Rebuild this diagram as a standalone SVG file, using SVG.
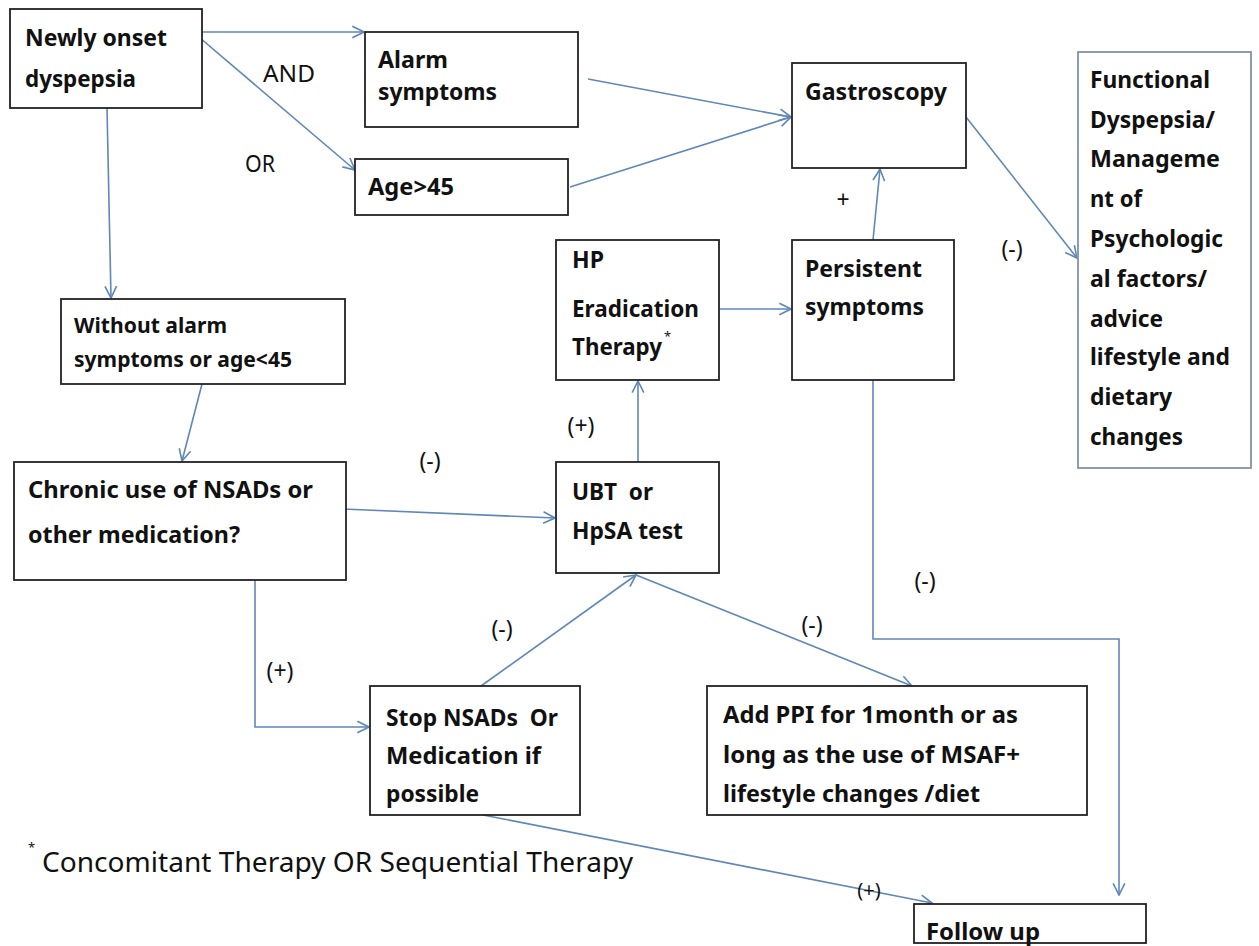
<svg xmlns="http://www.w3.org/2000/svg" width="1259" height="946" viewBox="0 0 1259 946">
<defs>
<marker id="arr" markerUnits="userSpaceOnUse" markerWidth="14" markerHeight="14" viewBox="0 0 12 12" refX="11" refY="6" orient="auto">
<path d="M1,1 L11,6 L1,11" fill="none" stroke="#5f87b8" stroke-width="1.4"/>
</marker>
<style>
rect{fill:#fff;stroke:#222;stroke-width:1.8}
.n{font-family:"Noto Sans","Liberation Sans",sans-serif;font-weight:bold;font-size:24px;fill:#111}
.s{font-size:22px}
.l{font-family:"Noto Sans","Liberation Sans",sans-serif;font-size:23px;fill:#111}
.c path{fill:none;stroke:#5f87b8;stroke-width:1.6;marker-end:url(#arr)}
</style>
</defs>
<rect x="0" y="0" width="1259" height="946" style="fill:#fff;stroke:none"/>
<g class="c" id="connectors">
<path d="M193,32 L364,32"/>
<path d="M193,32 L355,170"/>
<path d="M588,79 L791,117"/>
<path d="M570,187 L791,117"/>
<path d="M107,108 L111,298"/>
<path d="M202,384 L182,461"/>
<path d="M343,509 L555,518"/>
<path d="M638,462 L638,381"/>
<path d="M720,309 L791,309"/>
<path d="M873,240 L880,169"/>
<path d="M966,117 L1077,258"/>
<path d="M873,380 L873,639 L1119,639 L1119,895"/>
<path d="M255,580 L255,727 L369,727"/>
<path d="M481,686 L636,575"/>
<path d="M636,575 L912,686"/>
<path d="M483,815 L932,903"/>
</g>
<g id="labels" class="l">
<text x="263" y="82" textLength="52" lengthAdjust="spacingAndGlyphs">AND</text>
<text x="245" y="172" textLength="30" lengthAdjust="spacingAndGlyphs">OR</text>
<text x="843" y="208" text-anchor="middle">+</text>
<text x="1012" y="257" text-anchor="middle">(-)</text>
<text x="581" y="434" text-anchor="middle">(+)</text>
<text x="430" y="469" text-anchor="middle">(-)</text>
<text x="925" y="589" text-anchor="middle">(-)</text>
<text x="812" y="633" text-anchor="middle">(-)</text>
<text x="502" y="637" text-anchor="middle">(-)</text>
<text x="280" y="679" text-anchor="middle">(+)</text>
<text x="869" y="897" text-anchor="middle" style="font-size:20px">(+)</text>
</g>
<g id="newly">
<rect x="10" y="9" width="192" height="99"/>
<text class="n" x="25" y="46" textLength="142" lengthAdjust="spacingAndGlyphs">Newly onset</text>
<text class="n" x="25" y="87" textLength="111" lengthAdjust="spacingAndGlyphs">dyspepsia</text>
</g>
<g id="alarm">
<rect x="365" y="32" width="213" height="95"/>
<text class="n" x="378" y="68" textLength="70" lengthAdjust="spacingAndGlyphs">Alarm</text>
<text class="n" x="378" y="100" textLength="119" lengthAdjust="spacingAndGlyphs">symptoms</text>
</g>
<g id="age">
<rect x="355" y="159" width="213" height="56"/>
<text class="n" x="368" y="195" textLength="86" lengthAdjust="spacingAndGlyphs">Age&gt;45</text>
</g>
<g id="gastroscopy">
<rect x="792" y="63" width="174" height="105"/>
<text class="n" x="805" y="100" textLength="142" lengthAdjust="spacingAndGlyphs">Gastroscopy</text>
</g>
<g id="functional">
<rect x="1078" y="52" width="173" height="416" style="stroke:#8292aa"/>
<text class="n" x="1090" y="88" textLength="120" lengthAdjust="spacingAndGlyphs">Functional</text>
<text class="n" x="1090" y="128" textLength="125" lengthAdjust="spacingAndGlyphs">Dyspepsia/</text>
<text class="n" x="1090" y="167" textLength="130" lengthAdjust="spacingAndGlyphs">Manageme</text>
<text class="n" x="1090" y="207" textLength="52" lengthAdjust="spacingAndGlyphs">nt of</text>
<text class="n" x="1090" y="247" textLength="133" lengthAdjust="spacingAndGlyphs">Psychologic</text>
<text class="n" x="1090" y="287" textLength="117" lengthAdjust="spacingAndGlyphs">al factors/</text>
<text class="n" x="1090" y="327" textLength="73" lengthAdjust="spacingAndGlyphs">advice</text>
<text class="n" x="1090" y="365" textLength="140" lengthAdjust="spacingAndGlyphs">lifestyle and</text>
<text class="n" x="1090" y="405" textLength="82" lengthAdjust="spacingAndGlyphs">dietary</text>
<text class="n" x="1090" y="445" textLength="93" lengthAdjust="spacingAndGlyphs">changes</text>
</g>
<g id="persistent">
<rect x="792" y="240" width="162" height="140"/>
<text class="n" x="805" y="277" textLength="117" lengthAdjust="spacingAndGlyphs">Persistent</text>
<text class="n" x="805" y="315" textLength="119" lengthAdjust="spacingAndGlyphs">symptoms</text>
</g>
<g id="hp">
<rect x="556" y="240" width="163" height="140"/>
<text class="n" x="572" y="268" textLength="32" lengthAdjust="spacingAndGlyphs">HP</text>
<text class="n" x="572" y="317" textLength="127" lengthAdjust="spacingAndGlyphs">Eradication</text>
<text class="n" x="572" y="355"><tspan textLength="90" lengthAdjust="spacingAndGlyphs">Therapy</tspan><tspan dx="2" dy="-14" style="font-size:13px;font-weight:normal">*</tspan></text>
</g>
<g id="ubt">
<rect x="556" y="462" width="163" height="111"/>
<text class="n" x="572" y="500" textLength="81" lengthAdjust="spacingAndGlyphs" xml:space="preserve">UBT  or</text>
<text class="n" x="572" y="539" textLength="111" lengthAdjust="spacingAndGlyphs">HpSA test</text>
</g>
<g id="without">
<rect x="61" y="299" width="284" height="85"/>
<text class="n s" x="74" y="333" textLength="153" lengthAdjust="spacingAndGlyphs">Without alarm</text>
<text class="n s" x="74" y="367" textLength="218" lengthAdjust="spacingAndGlyphs">symptoms or age&lt;45</text>
</g>
<g id="chronic">
<rect x="14" y="462" width="332" height="118"/>
<text class="n" x="28" y="498" textLength="285" lengthAdjust="spacingAndGlyphs">Chronic use of NSADs or</text>
<text class="n" x="28" y="543" textLength="212" lengthAdjust="spacingAndGlyphs">other medication?</text>
</g>
<g id="stop">
<rect x="370" y="686" width="210" height="129"/>
<text class="n" x="386" y="726" textLength="172" lengthAdjust="spacingAndGlyphs" xml:space="preserve">Stop NSADs  Or</text>
<text class="n" x="386" y="764" textLength="155" lengthAdjust="spacingAndGlyphs">Medication if</text>
<text class="n" x="386" y="802" textLength="93" lengthAdjust="spacingAndGlyphs">possible</text>
</g>
<g id="ppi">
<rect x="707" y="686" width="380" height="129"/>
<text class="n" x="723" y="723" textLength="295" lengthAdjust="spacingAndGlyphs">Add PPI for 1month or as</text>
<text class="n" x="723" y="763" textLength="297" lengthAdjust="spacingAndGlyphs">long as the use of MSAF+</text>
<text class="n" x="723" y="802" textLength="257" lengthAdjust="spacingAndGlyphs">lifestyle changes /diet</text>
</g>
<g id="followup">
<rect x="914" y="904" width="232" height="39"/>
<text class="n" x="926" y="940" textLength="114" lengthAdjust="spacingAndGlyphs">Follow up</text>
</g>
<g id="footnote">
<text x="28" y="852" style="font-family:'Noto Sans','Liberation Sans',sans-serif;font-size:13px;fill:#111">*</text>
<text x="42" y="872" textLength="591" lengthAdjust="spacingAndGlyphs" style="font-family:'Noto Sans','Liberation Sans',sans-serif;font-size:28px;fill:#111">Concomitant Therapy OR Sequential Therapy</text>
</g>
</svg>
